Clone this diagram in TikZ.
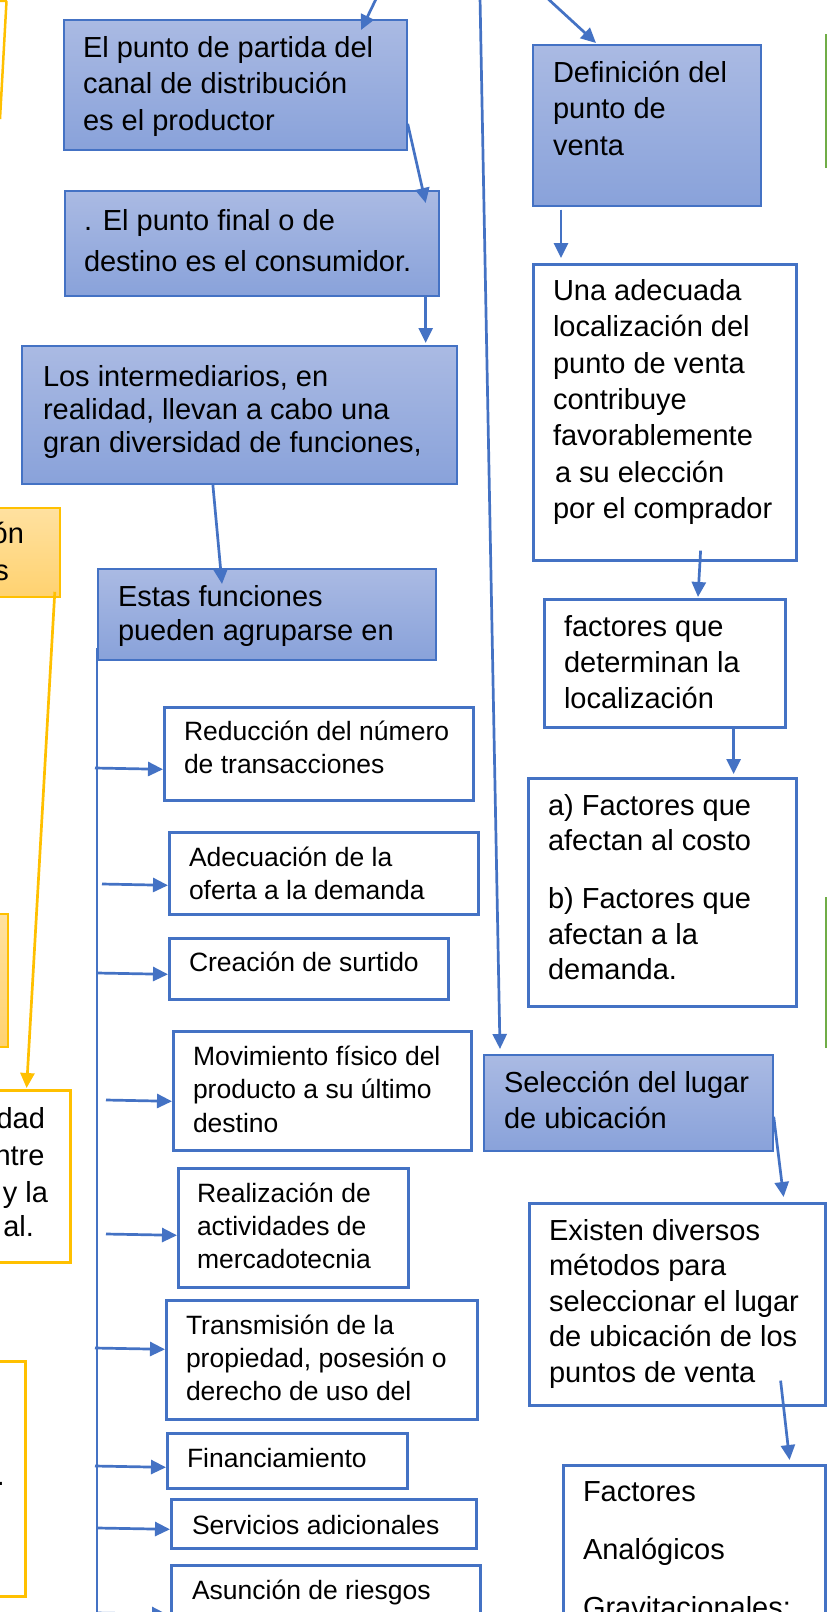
\documentclass[tikz,border=0pt]{standalone}
\usepackage{fontspec}
\setmainfont{Liberation Sans}
\usetikzlibrary{arrows.meta}
\definecolor{bl}{RGB}{68,114,196}
\definecolor{bltop}{RGB}{170,186,227}
\definecolor{blbot}{RGB}{137,162,218}
\definecolor{yl}{RGB}{255,192,0}
\definecolor{ortop}{RGB}{255,225,160}
\definecolor{orbot}{RGB}{255,210,112}
\definecolor{gr}{RGB}{112,173,71}
\definecolor{grfill}{RGB}{214,234,199}
\newcommand\FirstStrut{\rule{0pt}{0.8em}}
\begin{document}
\begin{tikzpicture}[x=1pt,y=-1pt,
  bluebox/.style={draw=bl, line width=1.7pt, top color=bltop, bottom color=blbot, inner sep=0pt, anchor=north west},
  whitebox/.style={draw=bl, line width=2.6pt, fill=white, inner sep=0pt, anchor=north west},
  orbox/.style={draw=yl, line width=1.8pt, top color=ortop, bottom color=orbot, inner sep=0pt, anchor=north west},
  ylbox/.style={draw=yl, line width=2.6pt, fill=white, inner sep=0pt, anchor=north west},
  grbox/.style={draw=gr, line width=2.2pt, fill=grfill, inner sep=0pt, anchor=north west},
  txt/.style={inner sep=0pt, outer sep=0pt, anchor=north west, align=left, text=black},
  part/.style={inner sep=0pt, outer sep=0pt, anchor=base east, text=black, font=\fontsize{29}{35}\selectfont},
  conn/.style={draw=bl, line width=2.7pt, -{Triangle[length=15pt,width=14pt]}},
  spine/.style={draw=bl, line width=2.7pt},
  yconn/.style={draw=yl, line width=2.7pt, -{Triangle[length=15pt,width=14pt]}}
]
\useasboundingbox (0,0) rectangle (827,1612);
\clip (0,0) rectangle (827,1612);
\fill[white] (0,0) rectangle (827,1612);

% ---------- left partial (yellow) boxes ----------
\draw[yl, line width=2.5pt] (0,0.8) -- (7,0.8) (6.5,1) -- (0,119);
\node[orbox, minimum width=119pt, minimum height=89pt] (y1) at (-60,507) {};
\node[orbox, minimum width=67pt, minimum height=133pt] (y2) at (-60,913) {};
\node[ylbox, minimum width=129pt, minimum height=172pt] (y3) at (-60,1089) {};
\node[ylbox, minimum width=84pt, minimum height=235pt] (y4) at (-60,1360) {};
\node[part] (l1) at (24,543) {ón};
\node[part] (l2) at (9,580) {s};
\node[part] (l3) at (45,1128) {dad};
\node[part] (l4) at (44.5,1165) {ntre};
\node[part] (l5) at (48,1202) {y la};
\node[part] (l6) at (34,1236) {al.};
\node[part] (l7) at (4.6,1485) {.};
\draw[yconn] ([xshift=-6pt,yshift=6pt]y1.south east) -- ([xshift=-45pt,yshift=1pt]y3.north east);

% ---------- green partial boxes ----------
\node[grbox, minimum width=60pt, minimum height=132pt] (g1) at (825,34) {};
\node[grbox, minimum width=60pt, minimum height=149pt] (g2) at (825,897) {};

% ---------- blue (gradient) boxes ----------
\node[bluebox, minimum width=343pt, minimum height=130pt] (b1) at (63,19) {};
\node[bluebox, minimum width=374pt, minimum height=105pt] (b2) at (64,190) {};
\node[bluebox, minimum width=435pt, minimum height=138pt] (b3) at (21,345) {};
\node[bluebox, minimum width=338pt, minimum height=91pt] (b4) at (97,568) {};
\node[bluebox, minimum width=228pt, minimum height=161pt] (bD) at (532,44) {};
\node[bluebox, minimum width=289pt, minimum height=96pt] (bS) at (483,1054) {};

\node[txt, font=\fontsize{29}{36.5}\selectfont] (t1) at (83,33.8) {\FirstStrut El punto de partida del\\canal de distribución\\es el productor};
\node[txt, font=\fontsize{29}{41}\selectfont] (t2) at (84,206.8) {\FirstStrut . El punto final o de\\destino es el consumidor.};
\node[txt, font=\fontsize{29}{33}\selectfont] (t3) at (43,362.8) {\FirstStrut Los intermediarios, en\\realidad, llevan a cabo una\\gran diversidad de funciones,};
\node[txt, font=\fontsize{29}{34}\selectfont] (t4) at (118,582.8) {\FirstStrut Estas funciones\\pueden agruparse en};
\node[txt, font=\fontsize{29}{36.5}\selectfont] (tD) at (553,58.8) {\FirstStrut Definición del\\punto de\\venta};
\node[txt, font=\fontsize{29}{36}\selectfont] (tS) at (504,1069.3) {\FirstStrut Selección del lugar\\de ubicación};

% ---------- white boxes, right column ----------
\node[whitebox, minimum width=263pt, minimum height=296pt] (w1) at (532,263) {};
\node[whitebox, minimum width=241pt, minimum height=128pt] (w2) at (543,598) {};
\node[whitebox, minimum width=268pt, minimum height=228pt] (w3) at (527,777) {};
\node[whitebox, minimum width=296pt, minimum height=202pt] (w4) at (528,1202) {};
\node[whitebox, minimum width=262pt, minimum height=200pt] (w5) at (562,1464) {};

\node[txt, font=\fontsize{29}{36.3}\selectfont] (tw1) at (553,277.3) {\FirstStrut Una adecuada\\localización del\\punto de venta\\contribuye\\favorablemente\\\hspace{2pt}a su elección\\por el comprador};
\node[txt, font=\fontsize{29}{36}\selectfont] (tw2) at (564,612.8) {\FirstStrut factores que\\determinan la\\localización};
\node[txt, font=\fontsize{29}{35.5}\selectfont] (tw3) at (548,791.8) {\FirstStrut a) Factores que\\afectan al costo\\[22.5pt]b) Factores que\\afectan a la\\demanda.};
\node[txt, font=\fontsize{29}{35.5}\selectfont] (tw4) at (549,1216.8) {\FirstStrut Existen diversos\\métodos para\\seleccionar el lugar\\de ubicación de los\\puntos de venta};
\node[txt, font=\fontsize{29}{58}\selectfont] (tw5) at (583,1478.5) {\FirstStrut Factores\\Analógicos\\Gravitacionales:};

% ---------- small white boxes, left column ----------
\node[whitebox, minimum width=309pt, minimum height=93pt] (s1) at (163,706) {};
\node[whitebox, minimum width=309pt, minimum height=82pt] (s2) at (168,831) {};
\node[whitebox, minimum width=279pt, minimum height=61pt] (s3) at (168,937) {};
\node[whitebox, minimum width=298pt, minimum height=119pt] (s4) at (172,1030) {};
\node[whitebox, minimum width=230pt, minimum height=119pt] (s5) at (177,1167) {};
\node[whitebox, minimum width=311pt, minimum height=119pt] (s6) at (165,1299) {};
\node[whitebox, minimum width=240pt, minimum height=55pt] (s7) at (166,1432) {};
\node[whitebox, minimum width=305pt, minimum height=49pt] (s8) at (170,1498) {};
\node[whitebox, minimum width=309pt, minimum height=98pt] (s9) at (170,1564) {};

\node[txt, font=\fontsize{26.5}{33}\selectfont] (r1) at (184,718.8) {\FirstStrut Reducción del número\\de transacciones};
\node[txt, font=\fontsize{26.5}{32.6}\selectfont] (r2) at (189,845.5) {\FirstStrut Adecuación de la\\oferta a la demanda};
\node[txt, font=\fontsize{26.5}{33}\selectfont] (r3) at (189,949.8) {\FirstStrut Creación de surtido};
\node[txt, font=\fontsize{26.5}{33.5}\selectfont] (r4) at (193,1043.8) {\FirstStrut Movimiento físico del\\producto a su último\\destino};
\node[txt, font=\fontsize{26.5}{33}\selectfont] (r5) at (197,1180.8) {\FirstStrut Realización de\\actividades de\\mercadotecnia};
\node[txt, font=\fontsize{26.5}{33}\selectfont] (r6) at (186,1312.8) {\FirstStrut Transmisión de la\\propiedad, posesión o\\derecho de uso del};
\node[txt, font=\fontsize{26.5}{33}\selectfont] (r7) at (187,1445.8) {\FirstStrut Financiamiento};
\node[txt, font=\fontsize{26.5}{33}\selectfont] (r8) at (192,1512.8) {\FirstStrut Servicios adicionales};
\node[txt, font=\fontsize{26.5}{33}\selectfont] (r9) at (192,1577.8) {\FirstStrut Asunción de riesgos};

% ---------- connectors ----------
\coordinate (top1) at (377,-3);
\coordinate (top2) at (480,-3);
\coordinate (top3) at (546,-3);
\draw[conn] (top1) -- ([xshift=298pt,yshift=-11pt]b1.north west);
\draw[conn] ([yshift=-39pt]b1.east) -- ([xshift=-14pt,yshift=-13pt]b2.north east);
\draw[conn] ([xshift=-14pt]b2.south east) -- ([xshift=-32pt,yshift=2pt]b3.north east);
\draw[conn] ([xshift=-26.5pt]b3.south) -- ([xshift=125pt,yshift=-16pt]b4.north west);
\draw[conn] (top2) -- ([xshift=17pt,yshift=5pt]bS.north west);
\draw[conn] (top3) -- ([xshift=64pt,yshift=1pt]bD.north west);
\draw[conn] ([xshift=29pt,yshift=-3pt]bD.south west) -- ([xshift=29pt,yshift=5pt]w1.north west);
\draw[conn] ([xshift=-97pt,yshift=11pt]w1.south east) -- ([xshift=155pt,yshift=1pt]w2.north west);
\draw[conn] ([xshift=-53pt]w2.south east) -- ([xshift=-64pt,yshift=3pt]w3.north east);
\draw[conn] ([yshift=35pt]bS.south east) -- ([xshift=-43pt,yshift=5pt]w4.north east);
\draw[conn] ([xshift=-46pt,yshift=26pt]w4.south east) -- ([xshift=-37pt,yshift=4pt]w5.north east);

% spine and branches
\coordinate (spEnd) at (97,1630);
\draw[spine] ([yshift=13pt]b4.south west) -- (spEnd);
\coordinate (j1) at (95,768);
\coordinate (j2) at (102,884);
\coordinate (j3) at (97,973);
\coordinate (j4) at (106,1100);
\coordinate (j5) at (106,1234);
\coordinate (j6) at (95,1348);
\coordinate (j7) at (95,1466);
\coordinate (j8) at (98,1528);
\coordinate (j9) at (97,1613);
\draw[conn] (j1) -- ([yshift=-15.5pt]s1.west);
\draw[conn] (j2) -- ([yshift=-12pt]s2.west);
\draw[conn] (j3) -- ([yshift=-5.5pt]s3.west);
\draw[conn] (j4) -- ([yshift=-10.5pt]s4.west);
\draw[conn] (j5) -- ([yshift=-7.5pt]s5.west);
\draw[conn] (j6) -- ([yshift=10.5pt]s6.west);
\draw[conn] (j7) -- ([yshift=-6.5pt]s7.west);
\draw[conn] (j8) -- ([yshift=-5.5pt]s8.west);
\draw[conn] (j9) -- ([xshift=-3pt]s9.west);
\end{tikzpicture}
\end{document}
